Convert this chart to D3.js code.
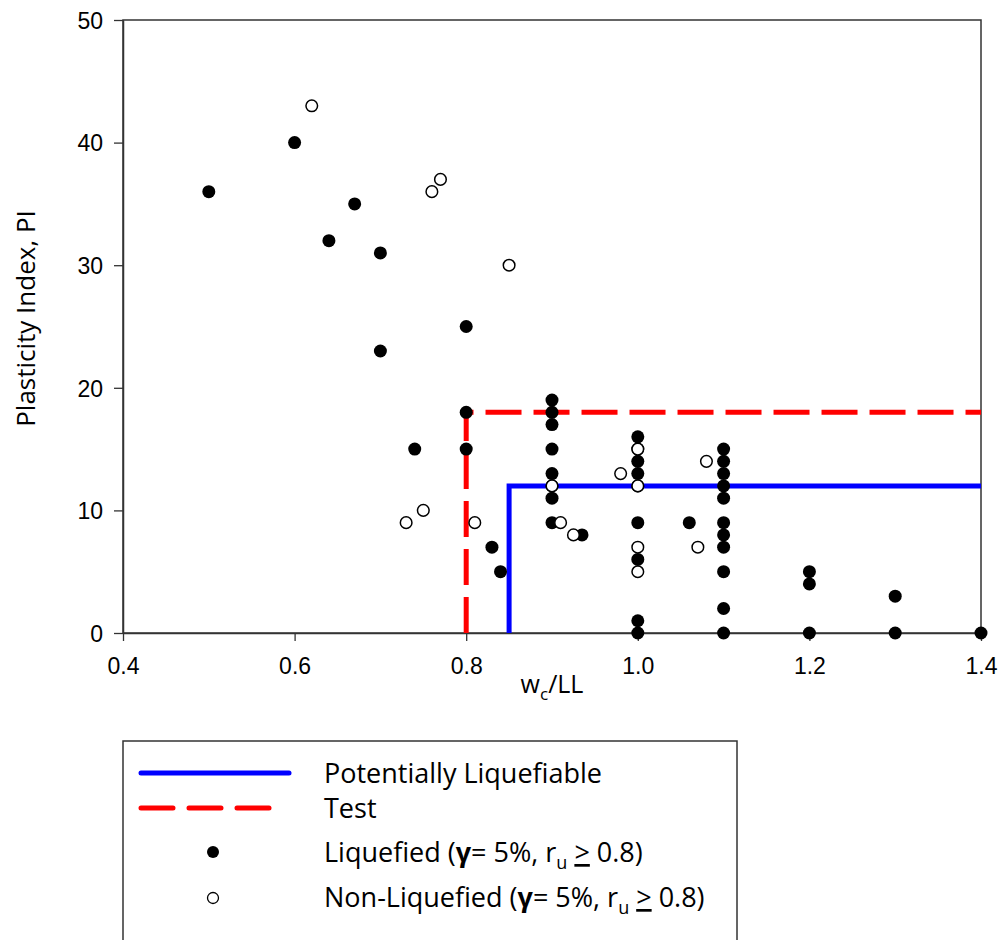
<!DOCTYPE html>
<html>
<head>
<meta charset="utf-8">
<script src="https://cdn.jsdelivr.net/npm/d3@7"></script>
<style>
  body { margin: 0; background: #fff; }
  svg { display: block; }
  text { font-family: "Liberation Sans", Arial, sans-serif; }
  .ttl { font-family: "Open Sans", "Liberation Sans", sans-serif; }
</style>
</head>
<body>
<script>
// ---- Data ----
const liquefiedX = [0.50, 0.60, 0.64, 0.67, 0.70, 0.70, 0.80, 0.80, 0.80, 0.74, 0.83, 0.84,
  0.90, 0.90, 0.90, 0.90, 0.90, 0.90, 0.90, 0.90,
  0.935,
  1.00, 1.00, 1.00, 1.00, 1.00, 1.00, 1.00, 1.00, 1.00,
  1.06,
  1.10, 1.10, 1.10, 1.10, 1.10, 1.10, 1.10, 1.10, 1.10, 1.10, 1.10,
  1.20, 1.20, 1.20,
  1.30, 1.30,
  1.40];
const liquefiedY = [36, 40, 32, 35, 31, 23, 25, 18, 15, 15, 7, 5,
  19, 18, 17, 15, 13, 12, 11, 9,
  8,
  16, 15, 14, 13, 12, 9, 6, 1, 0,
  9,
  15, 14, 13, 12, 11, 9, 8, 7, 5, 2, 0,
  5, 4, 0,
  3, 0,
  0];
const nonLiquefiedX = [0.62, 0.76, 0.77, 0.85, 0.73, 0.75, 0.81, 0.90, 0.91, 0.925, 0.98,
  1.00, 1.00, 1.00, 1.00, 1.07, 1.08];
const nonLiquefiedY = [43, 36, 37, 30, 9, 10, 9, 12, 9, 8, 13,
  15, 12, 7, 5, 7, 14];
const potLiqX = [0.85, 0.85, 1.4];
const potLiqY = [0, 12, 12];
const testX = [0.8, 0.8, 1.4];
const testY = [0, 18, 18];
const xTicks = [0.4, 0.6, 0.8, 1.0, 1.2, 1.4];
const yTicks = [0, 10, 20, 30, 40, 50];

// ---- Layout ----
const W = 1002, H = 940;
const L = 123, R = 981, T = 20, B = 633;
const svg = d3.select("body").append("svg").attr("width", W).attr("height", H);

const x = d3.scaleLinear().domain([0.4, 1.4]).range([L, R]);
const y = d3.scaleLinear().domain([0, 50]).range([B, T]);

const axisColor = "#333";

// frame
svg.append("rect").attr("x", L).attr("y", T).attr("width", R - L).attr("height", B - T)
  .attr("fill", "none").attr("stroke", axisColor).attr("stroke-width", 1.5);

const xAxis = svg.append("g").attr("transform", `translate(0,${B})`)
  .call(d3.axisBottom(x).tickValues(xTicks).tickFormat(d3.format(".1f")).tickSize(8).tickSizeOuter(0));
const yAxis = svg.append("g").attr("transform", `translate(${L},0)`)
  .call(d3.axisLeft(y).tickValues(yTicks).tickFormat(d3.format("d")).tickSize(9).tickSizeOuter(0));
[xAxis, yAxis].forEach(a => {
  a.select(".domain").attr("stroke", axisColor).attr("stroke-width", 1.5);
  a.selectAll(".tick line").attr("stroke", axisColor).attr("stroke-width", 1.3);
  a.selectAll(".tick text").attr("fill", "#000").style("font-size", "23px")
    .style("font-family", "'Liberation Sans', Arial, sans-serif");
});
xAxis.selectAll(".tick text").attr("y", 41).attr("dy", 0);
yAxis.selectAll(".tick text").attr("x", -20).attr("dy", "0.36em");

// axis titles
const xt = svg.append("text").attr("class", "ttl").attr("x", (L + R) / 2).attr("y", 693)
  .attr("text-anchor", "middle").style("font-size", "25px").attr("fill", "#000");
xt.append("tspan").text("w");
xt.append("tspan").text("c").attr("dy", 7).style("font-size", "17px");
xt.append("tspan").text("/LL").attr("dy", -7);

svg.append("text").attr("class", "ttl").attr("transform", `translate(35,${(T + B) / 2 - 8}) rotate(-90)`)
  .attr("text-anchor", "middle").style("font-size", "26px").attr("fill", "#000")
  .text("Plasticity Index, PI");

// lines
const line = d3.line().x(d => x(d[0])).y(d => y(d[1]));
svg.append("path").datum(potLiqX.map((v, i) => [v, potLiqY[i]])).attr("d", line)
  .attr("fill", "none").attr("stroke", "#0000ff").attr("stroke-width", 5);
svg.append("path").datum(testX.map((v, i) => [v, testY[i]])).attr("d", line)
  .attr("fill", "none").attr("stroke", "#ff0000").attr("stroke-width", 5)
  .attr("stroke-dasharray", "36,12").attr("stroke-dashoffset", 0);

// points
const r = 6.5;
svg.append("g").selectAll("circle").data(liquefiedX.map((v, i) => [v, liquefiedY[i]]))
  .join("circle").attr("cx", d => x(d[0])).attr("cy", d => y(d[1])).attr("r", r)
  .attr("fill", "#000");
svg.append("g").selectAll("circle").data(nonLiquefiedX.map((v, i) => [v, nonLiquefiedY[i]]))
  .join("circle").attr("cx", d => x(d[0])).attr("cy", d => y(d[1])).attr("r", r - 0.7)
  .attr("fill", "#fff").attr("stroke", "#000").attr("stroke-width", 1.5);

// legend
const lg = svg.append("g");
lg.append("rect").attr("x", 123).attr("y", 741).attr("width", 614).attr("height", 260)
  .attr("fill", "#fff").attr("stroke", "#333").attr("stroke-width", 1.5);
lg.append("line").attr("x1", 141).attr("x2", 289).attr("y1", 773).attr("y2", 773)
  .attr("stroke", "#0000ff").attr("stroke-width", 5).attr("stroke-linecap", "round");
lg.append("line").attr("x1", 141).attr("x2", 272).attr("y1", 808).attr("y2", 808)
  .attr("stroke", "#ff0000").attr("stroke-width", 5).attr("stroke-linecap", "round")
  .attr("stroke-dasharray", "32,16");
lg.append("circle").attr("cx", 213).attr("cy", 852).attr("r", 6).attr("fill", "#000");
lg.append("circle").attr("cx", 213).attr("cy", 898).attr("r", 5.5).attr("fill", "#fff")
  .attr("stroke", "#000").attr("stroke-width", 1.3);

const tx = 324, fs = "27px";
lg.append("text").attr("class", "ttl").attr("x", tx).attr("y", 783).style("font-size", fs).text("Potentially Liquefiable");
lg.append("text").attr("class", "ttl").attr("x", tx).attr("y", 818).style("font-size", fs).text("Test");
function critText(label, yy) {
  const t = lg.append("text").attr("class", "ttl").attr("x", tx).attr("y", yy).style("font-size", fs);
  t.append("tspan").text(label + " (");
  t.append("tspan").text("γ").style("font-weight", "bold");
  t.append("tspan").text("= 5%, r");
  t.append("tspan").text("u").attr("dy", 7).style("font-size", "18px");
  t.append("tspan").text(" ").attr("dy", -7);
  t.append("tspan").text(">").style("text-decoration", "underline");
  t.append("tspan").text(" 0.8)");
}
critText("Liquefied", 862);
critText("Non-Liquefied", 907);
</script>
</body>
</html>
